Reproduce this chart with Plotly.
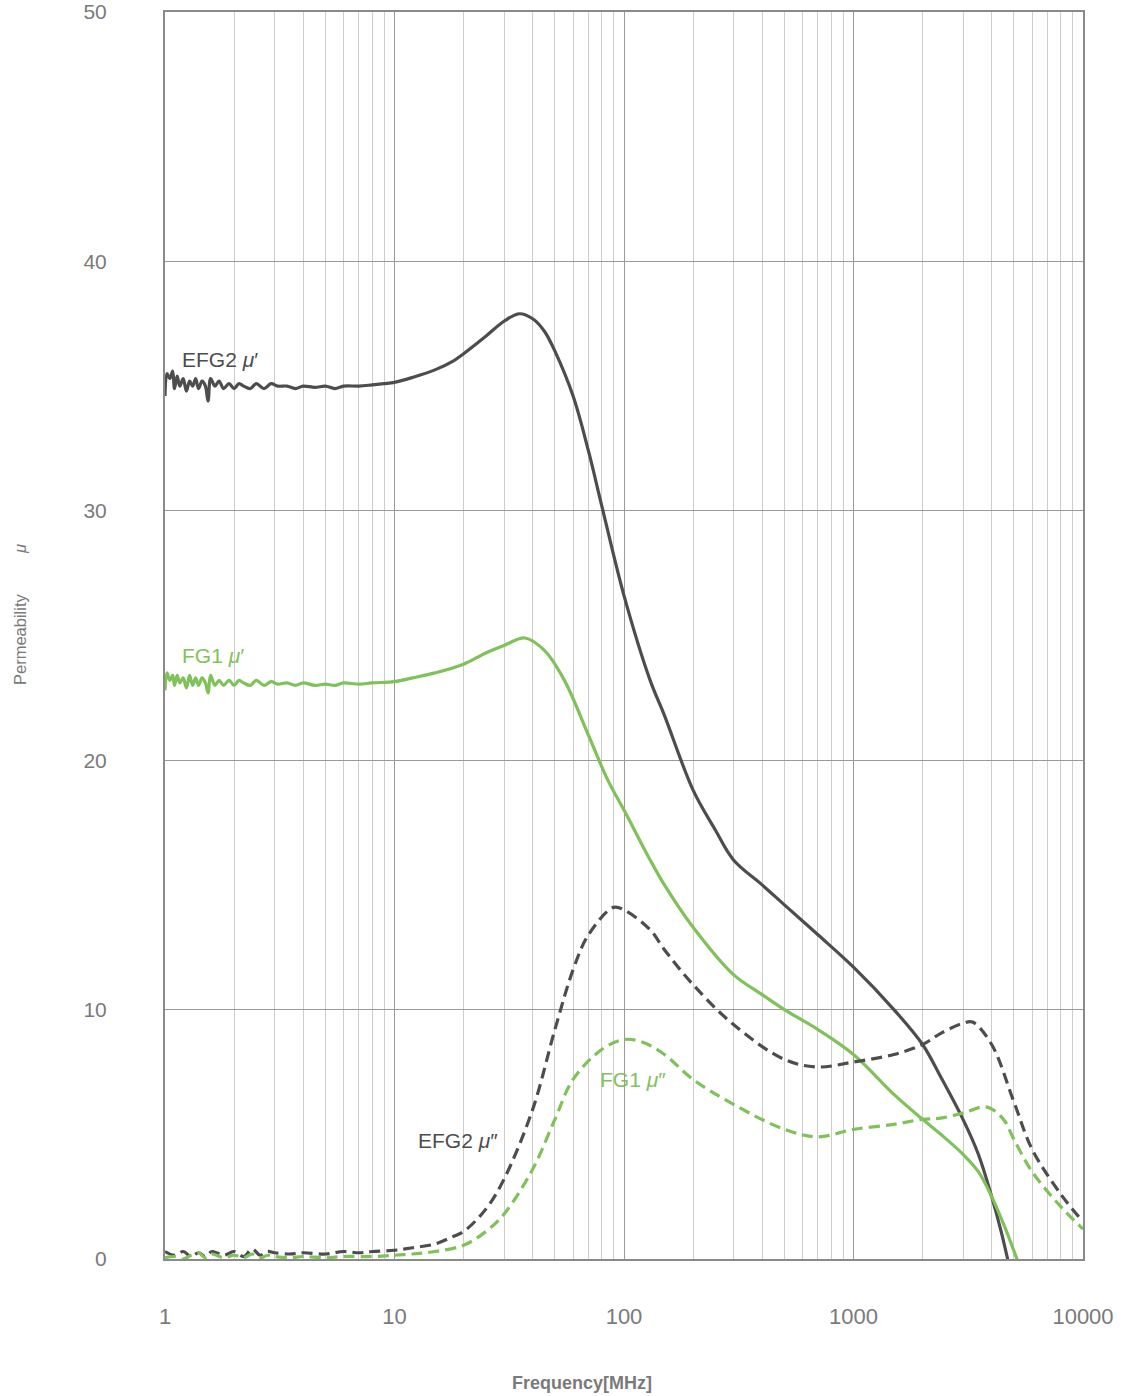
import plotly.graph_objects as go

# ---------------- data ----------------
efg2_mu1_f = [1.0, 1.02, 1.05, 1.08, 1.1, 1.13, 1.16, 1.2, 1.24, 1.28, 1.32, 1.36, 1.4, 1.45, 1.5, 1.54, 1.58,
              1.65, 1.72, 1.8, 1.9, 2.0, 2.1, 2.2, 2.35, 2.5, 2.7, 2.9, 3.1, 3.4, 3.7, 4.0, 4.5, 5.0, 5.5, 6.0,
              7.0, 8.0, 9.0, 10, 12, 15, 18, 20, 25, 30, 35, 40, 45, 50, 60, 70, 80, 100, 130, 150, 200, 250,
              300, 400, 500, 700, 1000, 1500, 2000, 2400, 3000, 3500, 4000, 4400, 4800]
efg2_mu1 = [34.6, 35.5, 35.3, 35.6, 34.9, 35.4, 35.0, 35.3, 34.8, 35.2, 35.0, 35.3, 34.9, 35.2, 35.0, 34.4, 35.3,
            35.0, 35.2, 34.9, 35.1, 34.9, 35.1, 35.0, 34.9, 35.1, 34.9, 35.1, 35.0, 35.0, 34.9, 35.0, 34.95, 35.0, 34.9, 35.0,
            35.0, 35.05, 35.1, 35.15, 35.35, 35.65, 36.0, 36.3, 37.0, 37.6, 37.9, 37.7, 37.2, 36.4, 34.6, 32.4, 30.2, 26.6, 23.2, 21.8, 18.8, 17.2,
            16.0, 15.0, 14.2, 13.0, 11.7, 10.0, 8.6, 7.3, 5.6, 4.2, 2.5, 1.1, -0.4]

fg1_mu1_f = [1.0, 1.02, 1.05, 1.08, 1.1, 1.13, 1.16, 1.2, 1.24, 1.28, 1.32, 1.36, 1.4, 1.45, 1.5, 1.54, 1.58,
             1.65, 1.72, 1.8, 1.9, 2.0, 2.1, 2.2, 2.35, 2.5, 2.7, 2.9, 3.1, 3.4, 3.7, 4.0, 4.5, 5.0, 5.5, 6.0,
             7.0, 8.0, 10, 12, 15, 20, 25, 30, 37, 45, 55, 70, 85, 100, 130, 150, 200, 300, 400, 500, 700,
             1000, 1500, 2000, 2400, 3000, 3500, 4000, 4600, 5200]
fg1_mu1 = [22.8, 23.5, 23.2, 23.4, 23.0, 23.4, 23.1, 23.3, 22.9, 23.4, 23.0, 23.3, 23.0, 23.3, 23.1, 22.7, 23.4,
           23.0, 23.2, 23.0, 23.2, 23.0, 23.2, 23.1, 23.0, 23.2, 23.0, 23.15, 23.05, 23.1, 23.0, 23.1, 23.0, 23.05, 23.0, 23.1,
           23.05, 23.1, 23.15, 23.3, 23.5, 23.85, 24.3, 24.6, 24.9, 24.4, 23.2, 21.0, 19.2, 18.0, 16.0, 15.0, 13.3, 11.4, 10.6, 10.0, 9.2,
           8.2, 6.6, 5.6, 5.0, 4.2, 3.5, 2.5, 1.2, -0.1]

efg2_mu2_f = [1.0, 1.1, 1.2, 1.3, 1.4, 1.5, 1.6, 1.8, 2.0, 2.2, 2.4, 2.6, 2.8, 3.0, 3.5, 4, 5, 6, 7, 8, 10,
              12, 15, 18, 20, 25, 30, 40, 50, 60, 70, 90, 100, 130, 150, 200, 300, 500, 700, 1000, 1500,
              2000, 2400, 3000, 3300, 4000, 5000, 6000, 8000, 10000]
efg2_mu2 = [0.3, 0.15, 0.3, 0.1, 0.25, 0.1, 0.3, 0.15, 0.3, 0.1, 0.4, 0.15, 0.3, 0.25, 0.2, 0.25, 0.2, 0.3, 0.25, 0.3, 0.35,
            0.45, 0.6, 0.9, 1.1, 2.0, 3.2, 6.0, 9.2, 11.6, 13.0, 14.1, 14.0, 13.2, 12.4, 11.0, 9.4, 8.0, 7.7, 7.9, 8.2,
            8.6, 9.05, 9.45, 9.5, 8.6, 6.3, 4.4, 2.6, 1.5]

fg1_mu2_f = [1.0, 1.1, 1.2, 1.3, 1.4, 1.5, 1.6, 1.8, 2.0, 2.2, 2.4, 2.6, 2.8, 3.0, 3.5, 4, 5, 6, 8, 10,
             12, 15, 20, 25, 30, 40, 50, 60, 80, 100, 120, 150, 200, 300, 500, 700, 1000, 1500, 2000,
             2400, 3000, 3800, 4500, 5000, 6000, 8000, 10000]
fg1_mu2 = [0.05, 0.1, 0.0, 0.15, 0.25, 0.05, 0.2, 0.05, 0.15, 0.05, 0.2, 0.05, 0.15, 0.1, 0.05, 0.1, 0.05, 0.1, 0.1, 0.15,
           0.2, 0.3, 0.55, 1.1, 1.8, 3.6, 5.6, 7.2, 8.4, 8.8, 8.7, 8.2, 7.2, 6.2, 5.2, 4.9, 5.2, 5.4, 5.6,
           5.65, 5.85, 6.1, 5.6, 4.8, 3.5, 2.1, 1.2]

y_ticks = [0, 10, 20, 30, 40, 50]
x_ticks = [1, 10, 100, 1000, 10000]
x_tick_labels = ["1", "10", "100", "1000", "10000"]

# ---------------- styles ----------------
DARK = "#4d4d4d"
GREEN = "#7fc25a"
FONT = "Liberation Sans, Arial, sans-serif"
TXT = "#7a7a7a"
DASH = "11px,6px"

PW, PH = 918, 1247          # plot area size in px
ML, MT = 165, 12
FW, FH = 1123, 1396

fig = go.Figure()
fig.add_trace(go.Scatter(x=efg2_mu1_f, y=efg2_mu1, mode="lines",
                         line=dict(color=DARK, width=3.2), line_shape="spline", name="EFG2 mu'"))
fig.add_trace(go.Scatter(x=fg1_mu1_f, y=fg1_mu1, mode="lines",
                         line=dict(color=GREEN, width=3.2), line_shape="spline", name="FG1 mu'"))
fig.add_trace(go.Scatter(x=efg2_mu2_f, y=efg2_mu2, mode="lines",
                         line=dict(color=DARK, width=3.2, dash=DASH), line_shape="spline", name="EFG2 mu''"))
fig.add_trace(go.Scatter(x=fg1_mu2_f, y=fg1_mu2, mode="lines",
                         line=dict(color=GREEN, width=3.2, dash=DASH), line_shape="spline", name="FG1 mu''"))

minor_vals = [m * 10 ** d for d in range(0, 4) for m in range(2, 10)]

fig.update_xaxes(type="log", range=[0, 4], tickmode="array", tickvals=x_ticks, ticktext=x_tick_labels,
                 showgrid=True, gridcolor="#9a9a9a", gridwidth=1.2,
                 minor=dict(tickmode="array", tickvals=minor_vals, showgrid=True, gridcolor="#cdcdcd", gridwidth=1.2,
                            ticks=""),
                 showline=True, linecolor="#8a8a8a", linewidth=2, mirror=True, ticks="",
                 ticklabelstandoff=37, tickfont=dict(family=FONT, size=22, color=TXT),
                 automargin=False, zeroline=False)
fig.update_yaxes(range=[0, 50], tickmode="array", tickvals=y_ticks,
                 showgrid=True, gridcolor="#9a9a9a", gridwidth=1.2,
                 showline=True, linecolor="#8a8a8a", linewidth=2, mirror=True, ticks="",
                 ticklabelstandoff=52, tickfont=dict(family=FONT, size=21, color=TXT),
                 automargin=False, zeroline=False)

# axis titles (placed as paper annotations for exact positioning)
fig.add_annotation(xref="paper", yref="paper", x=(582 - 165) / PW, y=-(1383 - 1259) / PH,
                   text="<b>Frequency[MHz]</b>", showarrow=False, xanchor="center", yanchor="middle",
                   font=dict(family=FONT, size=18, color=TXT))
fig.add_annotation(xref="paper", yref="paper", x=-(165 - 20) / PW, y=(1259 - 615) / PH,
                   text="Permeability&nbsp;&nbsp;&nbsp;&nbsp;&nbsp;&nbsp;&nbsp;&nbsp;&nbsp;<i>μ</i>",
                   showarrow=False, textangle=-90, xanchor="center", yanchor="middle",
                   font=dict(family=FONT, size=16.5, color=TXT))

ann = [
    (0.065, 36.05, "EFG2 <i>μ</i>′", DARK),
    (0.065, 24.2, "FG1 <i>μ</i>′", GREEN),
    (1.094, 4.77, "EFG2 <i>μ</i>″", DARK),
    (1.887, 7.18, "FG1 <i>μ</i>″", GREEN),
]
for x, y, t, c in ann:
    fig.add_annotation(x=x, y=y, text=t, showarrow=False, xanchor="left", yanchor="middle",
                       font=dict(family=FONT, size=21, color=c))

fig.update_layout(width=FW, height=FH, plot_bgcolor="white", paper_bgcolor="white",
                  margin=dict(l=ML, r=FW - ML - PW, t=MT, b=FH - MT - PH), showlegend=False)

fig.write_html("out.html", config={"displayModeBar": False},
               post_script="document.body.style.margin='0';document.body.style.overflow='hidden';")
